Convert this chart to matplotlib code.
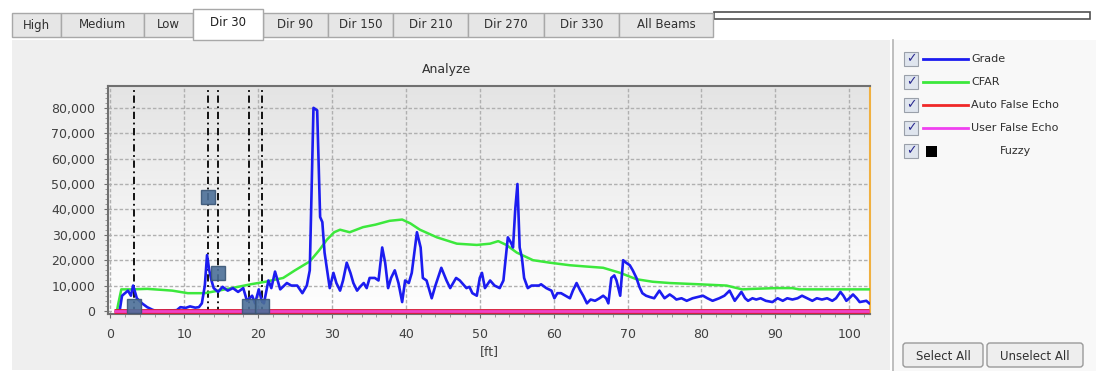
import numpy as np
import matplotlib
matplotlib.use('Agg')
import matplotlib.pyplot as plt
from matplotlib.patches import Rectangle, FancyBboxPatch
from matplotlib.ticker import MultipleLocator, FuncFormatter

# tabs along the top
tabs = ['High', 'Medium', 'Low', 'Dir 30', 'Dir 90', 'Dir 150', 'Dir 210',
        'Dir 270', 'Dir 330', 'All Beams']
tab_edges = [12, 61, 144, 193, 263, 328, 393, 468, 544, 619, 713]
selected_tab = 'Dir 30'

# Grade series, distance [ft] and echo value
grade_ft = [0.9, 1.3, 1.6, 2.0, 2.4, 2.8, 3.1, 3.6, 4.3, 5.0, 5.7, 6.2, 9.0, 9.5,
            10.2, 10.8, 11.5, 12.0, 12.4, 12.8, 13.1, 13.4, 13.7, 14.0, 14.6, 15.2,
            15.9, 16.6, 17.3, 18.0, 18.5, 19.2, 19.6, 20.1, 20.5, 20.8, 21.4, 21.8,
            22.3, 23.0, 23.9, 24.5, 25.3, 26.0, 26.6, 27.0, 27.5, 28.0, 28.4, 28.7,
            29.0, 29.7, 30.2, 30.6, 31.1, 31.5, 32.0, 32.5, 32.9, 33.4, 33.8, 34.3,
            34.7, 35.1, 35.8, 36.3, 36.8, 37.2, 37.6, 38.0, 38.5, 39.0, 39.5, 39.9,
            40.4, 40.8, 41.5, 42.0, 42.3, 42.8, 43.5, 44.0, 44.8, 45.5, 46.0, 46.4,
            46.8, 47.3, 48.2, 48.6, 49.0, 49.6, 50.0, 50.3, 50.7, 51.4, 52.0, 52.7,
            53.2, 53.8, 54.2, 54.5, 54.8, 55.1, 55.4, 55.7, 56.0, 56.5, 57.0, 57.4,
            58.0, 58.3, 59.0, 59.7, 60.1, 60.5, 61.0, 61.6, 62.2, 62.6, 63.1, 63.6,
            64.0, 64.5, 65.0, 65.6, 66.2, 66.7, 67.1, 67.4, 67.8, 68.2, 68.5, 69.0,
            69.4, 69.8, 70.3, 70.7, 71.2, 71.6, 72.0, 72.5, 73.0, 73.6, 74.3, 75.0,
            75.7, 76.2, 76.6, 77.3, 78.0, 78.8, 79.5, 80.2, 80.8, 81.5, 82.4, 83.1,
            83.8, 84.5, 85.4, 85.9, 86.3, 86.9, 87.4, 88.0, 88.7, 89.6, 90.3, 91.0,
            91.6, 92.3, 93.0, 93.6, 94.3, 95.0, 95.6, 96.3, 97.0, 97.7, 98.2, 98.8,
            99.2, 99.6, 100.0, 100.5, 101.0, 101.4, 102.3, 102.7]
grade_val = [0, 500, 6000, 7000, 8000, 6000, 10000, 5000, 3000, 1500, 500, 0, 300, 1500,
             1200, 1800, 1300, 1500, 3000, 10000, 22000, 16000, 12000, 9000, 7500, 9500,
             8000, 9000, 7500, 9000, 4000, 6000, 3000, 8500, 4000, 3000, 12000, 9000,
             15500, 8500, 11000, 10000, 10000, 7000, 10000, 16000, 80000, 79000, 37000, 35000,
             23000, 9000, 15000, 11000, 8000, 12000, 19000, 15000, 11000, 8000, 9500, 11000,
             9000, 13000, 13000, 12000, 25000, 19000, 9000, 13000, 16000, 11000, 3500, 12000,
             11000, 15000, 31000, 25000, 13000, 12000, 5000, 10000, 17000, 12000, 9000, 11000,
             13000, 12000, 9000, 9500, 7000, 6000, 13000, 15000, 9000, 12000, 10000, 9000,
             12000, 29000, 27000, 25000, 40000, 50000, 25000, 21000, 13000, 9000, 10000, 10000,
             10000, 10500, 9000, 8000, 5000, 7000, 7000, 6000, 5000, 8000, 11000, 8000,
             6000, 3000, 4500, 4000, 5000, 6000, 5000, 3000, 13000, 14000, 12000, 6000,
             20000, 19000, 18000, 16000, 13000, 9500, 7000, 6000, 5500, 5000, 8000, 5000,
             6500, 5500, 4500, 5000, 4000, 5000, 5500, 6000, 5000, 4000, 5000, 6000,
             8000, 4000, 7500, 5000, 4000, 5000, 4500, 5000, 4000, 3500, 5000, 4000,
             5000, 4500, 5000, 6000, 5000, 4000, 5000, 4500, 5000, 4000, 5000, 7500,
             6000, 4000, 5000, 6500, 5000, 3500, 4000, 3000]

# CFAR threshold
cfar_ft = [0.9, 1.1, 1.5, 3, 5, 7, 8.4, 10.5, 12.8, 15, 17.3, 19, 21, 23.4, 25, 27,
           28.3, 29.3, 30.3, 31.1, 32.4, 34.2, 35.9, 37.8, 39.5, 40.6, 41.9, 44.2,
           46.9, 49.6, 51.4, 52.5, 53.6, 55, 57.2, 59.5, 62.2, 64.4, 66.7, 69, 71.2,
           73.4, 75.7, 79.7, 83.4, 85.5, 87, 90.1, 92.3, 93.2, 102.7]
cfar_val = [0, 3000, 8500, 8500, 8700, 8300, 8000, 7000, 7000, 8200, 9500, 10500, 11500,
            13000, 16000, 19500, 24000, 28000, 31000, 32000, 31000, 33000, 34000, 35500,
            36000, 34500, 32000, 29000, 26500, 26000, 26500, 27500, 26000, 23000, 20000,
            19000, 18000, 17500, 17000, 15000, 12500, 11500, 11000, 10500, 10000, 8500,
            8700, 9000, 9000, 8500, 8500]

# false echo curves (flat at zero)
false_ft = [0.5, 102.7]
auto_false_val = [0, 0]
user_false_val = [0, 0]

# fuzzy points and their markers
fuzzy_ft = [3.2, 13.2, 14.6, 18.8, 20.6]
fuzzy_val = [2000, 45000, 15000, 2000, 2000]

legend_items = [('Grade', '#1c1cf0'), ('CFAR', '#3ce83c'),
                ('Auto False Echo', '#f02828'), ('User False Echo', '#f040f0'),
                ('Fuzzy', None)]

W, H = 1096, 371
fig = plt.figure(figsize=(W / 100, H / 100), dpi=100)
fig.patch.set_facecolor('white')

# background axes in pixel coordinates for the window chrome
bg = fig.add_axes([0, 0, 1, 1])
bg.set_xlim(0, W)
bg.set_ylim(H, 0)
bg.axis('off')

# chart panel
bg.add_patch(Rectangle((12, 40), 878, 330, facecolor='#efefef', edgecolor='none'))
# legend panel
bg.add_patch(Rectangle((893, 40), 203, 331, facecolor='#f8f8f8', edgecolor='none'))
bg.plot([893, 893], [40, 371], color='#b4b4b4', lw=1.2)

# tabs
for i, name in enumerate(tabs):
    x0, x1 = tab_edges[i], tab_edges[i + 1]
    if name == selected_tab:
        bg.add_patch(Rectangle((x0, 9), x1 - x0, 31, facecolor='white',
                               edgecolor='#a8a8a8', lw=1, zorder=3))
        bg.text((x0 + x1) / 2, 22, name, ha='center', va='center', fontsize=8.5,
                color='#202020', zorder=4)
    else:
        bg.add_patch(Rectangle((x0, 13), x1 - x0, 24, facecolor='#e6e6e6',
                               edgecolor='#a8a8a8', lw=1, zorder=2))
        bg.text((x0 + x1) / 2, 25, name, ha='center', va='center', fontsize=8.5,
                color='#303030', zorder=4)
bg.add_patch(Rectangle((714, 12), 376, 7, facecolor='white',
                       edgecolor='#505050', lw=1.2))

# legend entries
for i, (label, color) in enumerate(legend_items):
    y = 59 + i * 23
    bg.add_patch(Rectangle((904, y - 7), 14, 14, facecolor='#dfe5ee',
                           edgecolor='#9aa0aa', lw=0.8))
    bg.text(911, y, '\u2713', ha='center', va='center', fontsize=9,
            color='#2a2a90', fontweight='bold')
    if color:
        bg.plot([923, 968], [y, y], color=color, lw=2)
        bg.text(971, y, label, ha='left', va='center', fontsize=8, color='#303030')
    else:
        bg.add_patch(Rectangle((926, y - 5), 11, 11, facecolor='black'))
        bg.text(1000, y, label, ha='left', va='center', fontsize=8, color='#303030')

# buttons
for x0, w, label in [(903, 80, 'Select All'), (987, 96, 'Unselect All')]:
    bg.add_patch(FancyBboxPatch((x0, 343), w, 24, boxstyle='round,pad=0,rounding_size=3',
                                facecolor='#eeeeee', edgecolor='#9a9a9a', lw=1))
    bg.text(x0 + w / 2, 356, label, ha='center', va='center', fontsize=8.5,
            color='#303030')

# title of the chart
bg.text(447, 69, 'Analyze', ha='center', va='center', fontsize=9, color='#303030')

# main plot
ax = fig.add_axes([108 / W, 1 - 314 / H, (870 - 108) / W, (314 - 86) / H])
ax.set_xlim(-0.3, 102.8)
ax.set_ylim(-1200, 88600)

grad = np.linspace(0, 1, 256).reshape(-1, 1)
ax.imshow(grad, extent=[0, 1, 0, 1], transform=ax.transAxes, aspect='auto',
          cmap=matplotlib.colors.LinearSegmentedColormap.from_list('bgg', ['#ffffff', '#e4e4e4']),
          origin='lower', zorder=0)

ax.grid(True, which='major', color='#b0b0b0', linestyle=(0, (2.5, 1.5)), lw=1)
ax.set_axisbelow(True)

for fx in fuzzy_ft:
    ax.axvline(fx, color='black', linestyle=(0, (4, 2, 1, 2)), lw=1.3, zorder=2)

ax.plot(cfar_ft, cfar_val, color='#3ce83c', lw=1.8, zorder=4)
ax.plot(grade_ft, grade_val, color='#1c1cf0', lw=1.9, zorder=5)
ax.plot(false_ft, auto_false_val, color='#d81e3c', lw=3.5, zorder=6, solid_capstyle='butt')
ax.plot(false_ft, user_false_val, color='#f040c8', lw=2, zorder=6, solid_capstyle='butt')
ax.plot(fuzzy_ft, fuzzy_val, linestyle='none', marker='s', markersize=9.5,
        markerfacecolor='#4c6f98', markeredgecolor='#3a5676', alpha=0.9, zorder=7)

ax.xaxis.set_major_locator(MultipleLocator(10))
ax.xaxis.set_minor_locator(MultipleLocator(2))
ax.yaxis.set_major_locator(MultipleLocator(10000))
ax.yaxis.set_minor_locator(MultipleLocator(2000))
ax.yaxis.set_major_formatter(FuncFormatter(lambda v, p: f'{v:,.0f}'))
ax.tick_params(axis='both', which='major', labelsize=9, labelcolor='#404040',
               color='#707070', length=3)
ax.tick_params(axis='y', which='major', pad=6)
ax.tick_params(axis='x', which='major', pad=7)
ax.tick_params(axis='both', which='minor', color='#909090', length=2)

for s in ['left', 'top', 'bottom']:
    ax.spines[s].set_color('#707070')
    ax.spines[s].set_linewidth(1.5)
ax.spines['right'].set_color('#f0b040')
ax.spines['right'].set_linestyle((0, (2, 1)))
ax.spines['right'].set_linewidth(1.5)

ax.set_xlabel('[ft]', fontsize=9, color='#404040', labelpad=3)

fig.savefig('out.png', dpi=100)
